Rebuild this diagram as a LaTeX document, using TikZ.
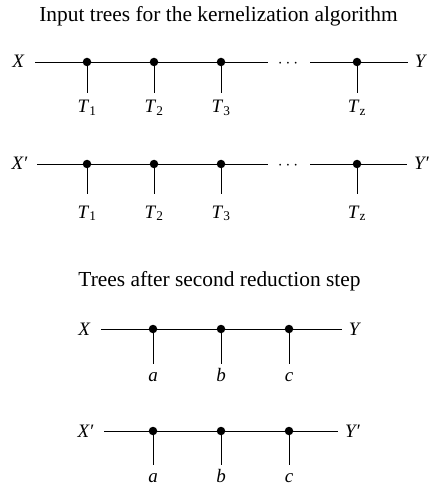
\documentclass[tikz,border=0pt]{standalone}
\usepackage{fontspec}
\setmainfont{Liberation Serif}
\newcommand\lbl[2]{\textit{#1}\textsubscript{#2}}
\begin{document}
\begin{tikzpicture}[x=1pt,y=-1pt,
  every node/.style={font=\fontsize{19}{22}\selectfont, inner sep=0pt, anchor=base},
  title/.style={font=\fontsize{21.4}{24}\selectfont},
  edge/.style={line width=0.9pt},
  dot/.style={circle, fill=black, minimum size=8.5pt, inner sep=0pt, anchor=center}]
\useasboundingbox (0,0) rectangle (430,486);
% titles
\node[title] (t1) at (218.5,22) {Input trees for the kernelization algorithm};
\node[title] (t2) at (219.5,286.5) {Trees after second reduction step};
% tree 1
\node (x1) at (18.5,68) {\textit{X}};
\node (y1) at (421,68) {\textit{Y}};
\coordinate (x1s) at (35,62);
\coordinate (x1e) at (268,62);
\coordinate (y1s) at (310,62);
\coordinate (y1e) at (408,62);
\node[anchor=center] (d1) at (288,64) {$\cdots$};
\draw[edge] (x1s) -- (x1e);
\draw[edge] (y1s) -- (y1e);
\foreach \n/\xx/\s in {a/87/1,b/154/2,c/221/3,z/357/z}{
  \node[dot] (p1\n) at (\xx,62) {};
  \coordinate (q1\n) at (\xx,93);
  \draw[edge] (p1\n.center) -- (q1\n);
  \node (l1\n) at (\xx,113) {\lbl{T}{\ifx\s z\textit{z}\else\s\fi}};
}
% tree 2
\node (x2) at (19.5,170) {\textit{X′}};
\node (y2) at (421.5,170) {\textit{Y′}};
\coordinate (x2s) at (37,164);
\coordinate (x2e) at (268,164);
\coordinate (y2s) at (310,164);
\coordinate (y2e) at (407,164);
\node[anchor=center] (d2) at (288,166) {$\cdots$};
\draw[edge] (x2s) -- (x2e);
\draw[edge] (y2s) -- (y2e);
\foreach \n/\xx/\s in {a/87/1,b/154/2,c/221/3,z/357/z}{
  \node[dot] (p2\n) at (\xx,164) {};
  \coordinate (q2\n) at (\xx,194);
  \draw[edge] (p2\n.center) -- (q2\n);
  \node (l2\n) at (\xx,218) {\lbl{T}{\ifx\s z\textit{z}\else\s\fi}};
}
% tree 3
\node (x3) at (84.5,335) {\textit{X}};
\node (y3) at (355,335) {\textit{Y}};
\coordinate (x3s) at (101,329);
\coordinate (x3e) at (342,329);
\draw[edge] (x3s) -- (x3e);
\foreach \n/\xx in {a/153,b/221,c/289}{
  \node[dot] (p3\n) at (\xx,329) {};
  \coordinate (q3\n) at (\xx,364);
  \draw[edge] (p3\n.center) -- (q3\n);
  \node (l3\n) at (\xx,381) {\textit{\n}};
}
% tree 4
\node (x4) at (85.5,437) {\textit{X′}};
\node (y4) at (352.5,437) {\textit{Y′}};
\coordinate (x4s) at (104,431);
\coordinate (x4e) at (338,431);
\draw[edge] (x4s) -- (x4e);
\foreach \n/\xx in {a/153,b/221,c/289}{
  \node[dot] (p4\n) at (\xx,431) {};
  \coordinate (q4\n) at (\xx,465);
  \draw[edge] (p4\n.center) -- (q4\n);
  \node (l4\n) at (\xx,482.5) {\textit{\n}};
}
\end{tikzpicture}
\end{document}
